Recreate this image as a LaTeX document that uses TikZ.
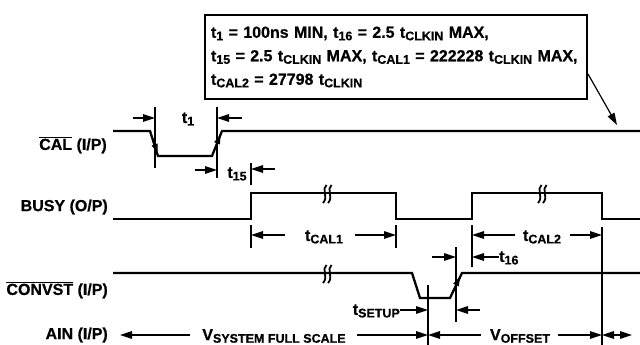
\documentclass[tikz,border=0pt]{standalone}
\usepackage{fontspec}
\setmainfont{Liberation Sans}[BoldFeatures={FakeBold=0.6}]
\usetikzlibrary{arrows.meta}
\newcommand{\sbs}[1]{\raisebox{-0.3ex}{\fontsize{12.5}{13}\selectfont #1}}
\newcommand{\ovl}[1]{$\overline{\hbox{#1}}$}

\begin{document}
\begin{tikzpicture}[x=1pt,y=-1pt]
\tikzset{sig/.style={line width=2.3pt},
  dim/.style={line width=1.2pt},
  arr/.style={dim,-{Triangle[length=12pt,width=7.5pt]}},
  darr/.style={dim,{Triangle[length=12pt,width=7.5pt]}-{Triangle[length=12pt,width=7.5pt]}},
  edgearr/.style={line width=1pt,-{Triangle[length=9pt,width=6pt]}},
  lab/.style={anchor=east,inner sep=0pt},
  every node/.style={font=\fontsize{16}{23.5}\selectfont\bfseries}}
\useasboundingbox (0,0) rectangle (640,345);

% timing note
\node[draw,line width=2pt,anchor=north west,text width=370pt,minimum height=84pt,
  align=left,inner xsep=6pt] (note) at (204,14)
  {t\sbs{1} = 100ns MIN, t\sbs{16} = 2.5 t\sbs{CLKIN} MAX,\\
   t\sbs{15} = 2.5 t\sbs{CLKIN} MAX, t\sbs{CAL1} = 222228 t\sbs{CLKIN} MAX,\\
   t\sbs{CAL2} = 27798 t\sbs{CLKIN}};
\coordinate (hit) at (617,125);
\draw[arr] ([yshift=-17pt]note.east) -- (hit);

% signal names
\node[lab] (cal) at (107,145) {\ovl{CAL} (I/P)};
\node[lab] (busy) at (108,207) {BUSY (O/P)};
\node[lab] (convst) at (108,290) {\ovl{CONVST} (I/P)};
\node[lab] (ain) at (108,335) {AIN (I/P)};

% waveforms
\draw[sig] (113,131) -- (150,131) -- (158,156) -- (212,156) -- (222,131) -- (640,131);
\draw[sig] (113,219) -- (251,219) -- (251,193) -- (396,193) -- (396,219) -- (472,219)
  -- (472,193) -- (602,193) -- (602,219) -- (640,219);
\draw[sig] (113,273) -- (412,273) -- (420,298) -- (450,298) -- (462,273) -- (640,273);
\draw[edgearr] (151,134) -- (157.5,153);
\draw[edgearr] (213,153) -- (220.5,135);
\draw[edgearr] (451,295) -- (460,277);

% breaks
\foreach \x/\y in {327/194,542/194,327/274}
  \draw[line width=1.8pt,shift={(\x,\y)}]
    (-0.5,-9) .. controls (-6,-5) and (2,3) .. (-4,9)
    (4.5,-9) .. controls (-1,-5) and (7,3) .. (1,9);

% edge markers
\coordinate (f1) at (155,107);
\coordinate (r1) at (217,107);
\coordinate (b1) at (251,163);
\coordinate (b2) at (396,225);
\coordinate (b3) at (472,225);
\coordinate (b4) at (602,227);
\coordinate (c1) at (456,247);
\coordinate (s1) at (428,285);
\draw[dim] (f1) -- ++(0,61);
\draw[dim] (r1) -- ++(0,71);
\draw[dim] (b1) -- ++(0,22);
\draw[dim] (b1 |- b2) -- ++(0,23);
\draw[dim] (b2) -- ++(0,23);
\draw[dim] (b3) -- ++(0,42);
\draw[dim] (b4) -- (602,345);
\draw[dim] (c1) -- ++(0,75);
\draw[dim] (s1) -- (428,345);

% t1, t15
\node (t1) at (188,119) {t\sbs{1}};
\draw[arr] (133,118) -- (f1 |- 0,118);
\draw[arr] (242,118) -- (r1 |- 0,118);
\node (t15) at (237,174) {t\sbs{15}};
\draw[arr] (195,170) -- (r1 |- 0,170);
\draw[arr] (275,169) -- (b1 |- 0,169);

% tCAL1, tCAL2, t16
\node (tcal1) at (324,237) {t\sbs{CAL1}};
\draw[arr] (285,235) -- (b1 |- 0,235);
\draw[arr] (355,235) -- (b2 |- 0,235);
\node (tcal2) at (542,237) {t\sbs{CAL2}};
\draw[arr] (515,235) -- (b3 |- 0,235);
\draw[arr] (570,235) -- (b4 |- 0,235);
\node[anchor=west,inner sep=0pt] (t16) at (499,258) {t\sbs{16}};
\draw[arr] (t16.west |- 0,257) -- (b3 |- 0,257);
\draw[arr] (432,257) -- (c1 |- 0,257);

% tSETUP
\node[anchor=east,inner sep=0pt] (tsetup) at (400,311) {t\sbs{SETUP}};
\draw[arr] (tsetup.east |- 0,310) -- (s1 |- 0,310);
\draw[arr] (480,310) -- (c1 |- 0,310);

% AIN
\node (vfs) at (274,336) {V\sbs{SYSTEM FULL SCALE}};
\draw[arr] (190,335) -- (120,335);
\draw[arr] (357,335) -- (s1 |- 0,335);
\node (voff) at (520,336) {V\sbs{OFFSET}};
\draw[arr] (481,335) -- (s1 |- 0,335);
\draw[arr] (558,335) -- (b4 |- 0,335);
\draw[darr] (b4 |- 0,335) -- (632,335);
\end{tikzpicture}
\end{document}
